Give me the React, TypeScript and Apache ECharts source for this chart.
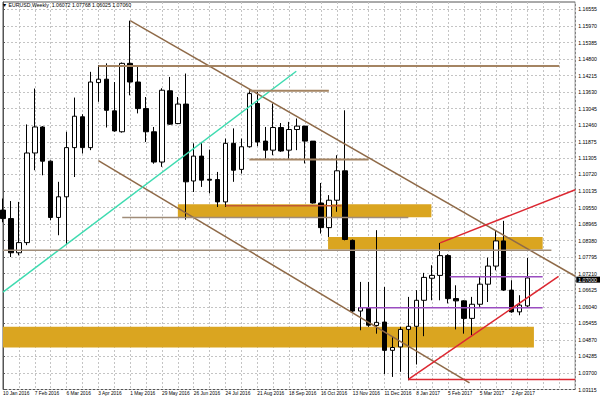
import React, { useEffect, useRef } from 'react';
import * as echarts from 'echarts';

// Weekly bars, EURUSD
const weeks = [
  '10 Jan 2016', '17 Jan 2016', '24 Jan 2016', '31 Jan 2016', '7 Feb 2016', '14 Feb 2016', '21 Feb 2016', '28 Feb 2016',
  '6 Mar 2016', '13 Mar 2016', '20 Mar 2016', '27 Mar 2016', '3 Apr 2016', '10 Apr 2016', '17 Apr 2016', '24 Apr 2016',
  '1 May 2016', '8 May 2016', '15 May 2016', '22 May 2016', '29 May 2016', '5 Jun 2016', '12 Jun 2016', '19 Jun 2016',
  '26 Jun 2016', '3 Jul 2016', '10 Jul 2016', '17 Jul 2016', '24 Jul 2016', '31 Jul 2016', '7 Aug 2016', '14 Aug 2016',
  '21 Aug 2016', '28 Aug 2016', '4 Sep 2016', '11 Sep 2016', '18 Sep 2016', '25 Sep 2016', '2 Oct 2016', '9 Oct 2016',
  '16 Oct 2016', '23 Oct 2016', '30 Oct 2016', '6 Nov 2016', '13 Nov 2016', '20 Nov 2016', '27 Nov 2016', '4 Dec 2016',
  '11 Dec 2016', '18 Dec 2016', '25 Dec 2016', '1 Jan 2017', '8 Jan 2017', '15 Jan 2017', '22 Jan 2017', '29 Jan 2017',
  '5 Feb 2017', '12 Feb 2017', '19 Feb 2017', '26 Feb 2017', '5 Mar 2017', '12 Mar 2017', '19 Mar 2017', '26 Mar 2017',
  '2 Apr 2017', '9 Apr 2017', '16 Apr 2017',
];
const futureSlots = ['', '', '', '', '', ''];

const opens = [
  1.0946, 1.0916, 1.0795, 1.0831, 1.1148, 1.1240, 1.1119, 1.0920,
  1.0993, 1.1167, 1.1276, 1.1167, 1.1397, 1.1409, 1.1297, 1.1223,
  1.1465, 1.1399, 1.1305, 1.1223, 1.1116, 1.1368, 1.1252, 1.1321,
  1.1049, 1.1137, 1.1055, 1.1054, 1.0975, 1.1182, 1.1090, 1.1170,
  1.1323, 1.1190, 1.1158, 1.1238, 1.1158, 1.1231, 1.1243, 1.1190,
  1.0971, 1.0884, 1.0981, 1.1085, 1.0839, 1.0589, 1.0601, 1.0538,
  1.0550, 1.0450, 1.0462, 1.0524, 1.0535, 1.0627, 1.0705, 1.0715,
  1.0785, 1.0633, 1.0625, 1.0563, 1.0613, 1.0684, 1.0748, 1.0837,
  1.0663, 1.0586, 1.06072,
];
const highs = [
  1.0987, 1.0978, 1.0975, 1.1249, 1.1376, 1.1243, 1.1122, 1.1046,
  1.1223, 1.1344, 1.1285, 1.1435, 1.1459, 1.1465, 1.1399, 1.1468,
  1.1616, 1.1459, 1.1346, 1.1240, 1.1377, 1.1417, 1.1346, 1.1429,
  1.1182, 1.1187, 1.1160, 1.1081, 1.1199, 1.1235, 1.1199, 1.1373,
  1.1364, 1.1240, 1.1323, 1.1254, 1.1258, 1.1270, 1.1243, 1.1190,
  1.1042, 1.0999, 1.1140, 1.1299, 1.0842, 1.0692, 1.0692, 1.0875,
  1.0674, 1.0497, 1.0533, 1.0639, 1.0663, 1.0724, 1.0751, 1.0830,
  1.0790, 1.0680, 1.0627, 1.0639, 1.0710, 1.0778, 1.0875, 1.0908,
  1.0698, 1.0645, 1.07768,
];
const lows = [
  1.0903, 1.0780, 1.0786, 1.0822, 1.1087, 1.1069, 1.0910, 1.0857,
  1.0822, 1.1063, 1.1146, 1.1158, 1.1329, 1.1238, 1.1223, 1.1220,
  1.1352, 1.1288, 1.1187, 1.1110, 1.1099, 1.1248, 1.1250, 1.0912,
  1.1010, 1.1028, 1.1005, 1.0957, 1.0957, 1.1046, 1.1075, 1.1167,
  1.1172, 1.1128, 1.1140, 1.1152, 1.1128, 1.1158, 1.1111, 1.0969,
  1.0863, 1.0851, 1.0940, 1.0839, 1.0586, 1.0521, 1.0533, 1.0509,
  1.0366, 1.0356, 1.0374, 1.0344, 1.0400, 1.0500, 1.0627, 1.0627,
  1.0616, 1.0524, 1.0509, 1.0503, 1.0604, 1.0621, 1.0733, 1.0660,
  1.0583, 1.0574, 1.06025,
];
const closes = [
  1.0916, 1.0795, 1.0831, 1.1148, 1.1240, 1.1119, 1.0920, 1.0993,
  1.1167, 1.1278, 1.1167, 1.1399, 1.1409, 1.1299, 1.1226, 1.1465,
  1.1399, 1.1305, 1.1223, 1.1116, 1.1370, 1.1250, 1.1321, 1.1046,
  1.1137, 1.1052, 1.1052, 1.0975, 1.1182, 1.1087, 1.1170, 1.1358,
  1.1187, 1.1158, 1.1238, 1.1155, 1.1231, 1.1243, 1.1190, 1.0971,
  1.0884, 1.0981, 1.1085, 1.0842, 1.0589, 1.0601, 1.0539, 1.0549,
  1.0450, 1.0460, 1.0524, 1.0535, 1.0627, 1.0708, 1.0715, 1.0785,
  1.0633, 1.0625, 1.0563, 1.0613, 1.0684, 1.0748, 1.0837, 1.0663,
  1.0586, 1.0610, 1.07060,
];

const yTickLabels = [
  '1.03115', '1.03700', '1.04285', '1.04870', '1.05455', '1.06040', '1.06625', '1.07210',
  '1.07795', '1.08380', '1.08965', '1.09550', '1.10135', '1.10720', '1.11305', '1.11875',
  '1.12460', '1.13045', '1.13630', '1.14215', '1.14800', '1.15385', '1.15970', '1.16555',
];
const priceMin = 1.03115;
const priceMax = 1.1682;

// Drawn objects, in (bar index, price)
const channelUpper = [[16, 1.1616], [72, 1.0712]];
const channelLower = [[12, 1.1121], [58.7, 1.0335]];
const cyanTrend = [[0, 1.0656], [36.9, 1.1437]];
const tanLevels = [
  [[12, 1.1456], [70, 1.1456]],
  [[31, 1.1368], [41, 1.1368]],
  [[31, 1.1125], [46, 1.1125]],
];
const greyLevels = [
  [[15, 1.0920], [51, 1.0920]],
  [[0, 1.0804], [69, 1.0804]],
];
const siennaLevel = [[28, 1.0961], [42.6, 1.0961]];
const purpleLevels = [
  [[44.75, 1.0601], [67.9, 1.0601]],
  [[56.2, 1.0710], [67.9, 1.0710]],
];
const redLines = [
  [[51, 1.0347], [72, 1.0347]],
  [[51, 1.0347], [69.9, 1.0712]],
  [[55, 1.0830], [72, 1.1018]],
];
const goldZones = [
  [[22, 1.0967], [53.9, 1.0921]],
  [[40.9, 1.0851], [67.9, 1.0807]],
  [[0, 1.0533], [66.8, 1.0460]],
];

const FONT = 'Liberation Sans';

function lineSeries(data: number[][], color: string, width: number, z = 5) {
  return {
    type: 'line',
    xAxisIndex: 1,
    yAxisIndex: 0,
    data,
    symbol: 'none',
    silent: true,
    z,
    lineStyle: { color, width },
  };
}

export default function App() {
  const ref = useRef<HTMLDivElement>(null);

  useEffect(() => {
    document.body.style.margin = '0';
    if (!ref.current) return;
    const chart = echarts.init(ref.current, undefined, { renderer: 'svg' });
    const last = weeks.length - 1;
    const candles = weeks.map((_, i) => [opens[i], closes[i], lows[i], highs[i]]);
    const header =
      '\u25BC EURUSD,Weekly  ' +
      [opens[last], highs[last], lows[last], closes[last]].map((v) => v.toFixed(5)).join(' ');
    const yTickValues = yTickLabels.map(Number);

    const series: any[] = [
      {
        type: 'line',
        xAxisIndex: 1,
        yAxisIndex: 0,
        data: [],
        silent: true,
        z: 1,
        markArea: {
          silent: true,
          itemStyle: { color: '#DAA520', opacity: 1 },
          data: goldZones.map((z) => [{ coord: z[0] }, { coord: z[1] }]),
        },
      },
      {
        type: 'candlestick',
        xAxisIndex: 0,
        yAxisIndex: 0,
        data: candles,
        barWidth: 5,
        z: 3,
        itemStyle: {
          color: '#ffffff',
          color0: '#000000',
          borderColor: '#000000',
          borderColor0: '#000000',
          borderWidth: 1,
        },
        markLine: {
          silent: true,
          symbol: ['none', 'none'],
          lineStyle: { color: 'rgba(0,0,0,0)', width: 0 },
          label: {
            position: 'end',
            distance: 1,
            formatter: (p: any) => Number(p.value).toFixed(5),
            backgroundColor: '#000',
            color: '#fff',
            fontSize: 5.2,
            fontFamily: FONT,
            padding: [1, 3, 0, 2],
          },
          data: [{ yAxis: closes[last] }],
        },
      },
      lineSeries(channelUpper, '#8f6a48', 1.5),
      lineSeries(channelLower, '#8f6a48', 1.5),
      lineSeries(cyanTrend, '#3edbb0', 1.5),
      ...tanLevels.map((l) => lineSeries(l, '#a48462', 2)),
      ...greyLevels.map((l) => lineSeries(l, '#a08c78', 1.5)),
      lineSeries(siennaLevel, '#c05a30', 1.5),
      ...purpleLevels.map((l) => lineSeries(l, '#9a4dc0', 1.5)),
      ...redLines.map((l) => lineSeries(l, '#dc2832', 1.5)),
    ];

    chart.setOption({
      animation: false,
      backgroundColor: '#ffffff',
      textStyle: { fontFamily: FONT },
      title: {
        text: header,
        left: 2,
        top: 2,
        padding: 0,
        textStyle: { fontSize: 5.2, fontWeight: 'normal', color: '#000', fontFamily: FONT },
      },
      grid: {
        left: 2,
        right: 22.5,
        top: 2,
        bottom: 10.5,
        show: true,
        borderColor: '#555',
        borderWidth: 1,
        backgroundColor: '#fff',
      },
      xAxis: [
        {
          type: 'category',
          data: [...weeks, ...futureSlots],
          boundaryGap: false,
          axisLine: { show: false },
          axisTick: { show: false },
          axisLabel: {
            interval: (index: number, value: string) => index % 4 === 0 && value !== '',
            align: 'left',
            margin: 1,
            fontSize: 4.8,
            color: '#000',
            fontFamily: FONT,
          },
          splitLine: {
            show: true,
            interval: 1,
            lineStyle: { color: '#c4c4c4', type: [2, 2], width: 1 },
          },
        },
        { type: 'value', min: 0, max: 72, show: false },
      ],
      yAxis: {
        type: 'value',
        position: 'right',
        min: priceMin,
        max: priceMax,
        scale: true,
        axisLine: { show: true, lineStyle: { color: '#555' } },
        axisTick: { show: true, length: 2, customValues: yTickValues, lineStyle: { color: '#555' } },
        axisLabel: {
          customValues: yTickValues,
          formatter: (v: number) => v.toFixed(5),
          margin: 3,
          fontSize: 5.2,
          color: '#000',
          fontFamily: FONT,
        },
        splitLine: {
          show: true,
          lineStyle: { color: '#c4c4c4', type: [2, 2], width: 1 },
        },
      },
      series,
    });
    return () => chart.dispose();
  }, []);

  return <div ref={ref} style={{ width: 600, height: 400 }} />;
}
